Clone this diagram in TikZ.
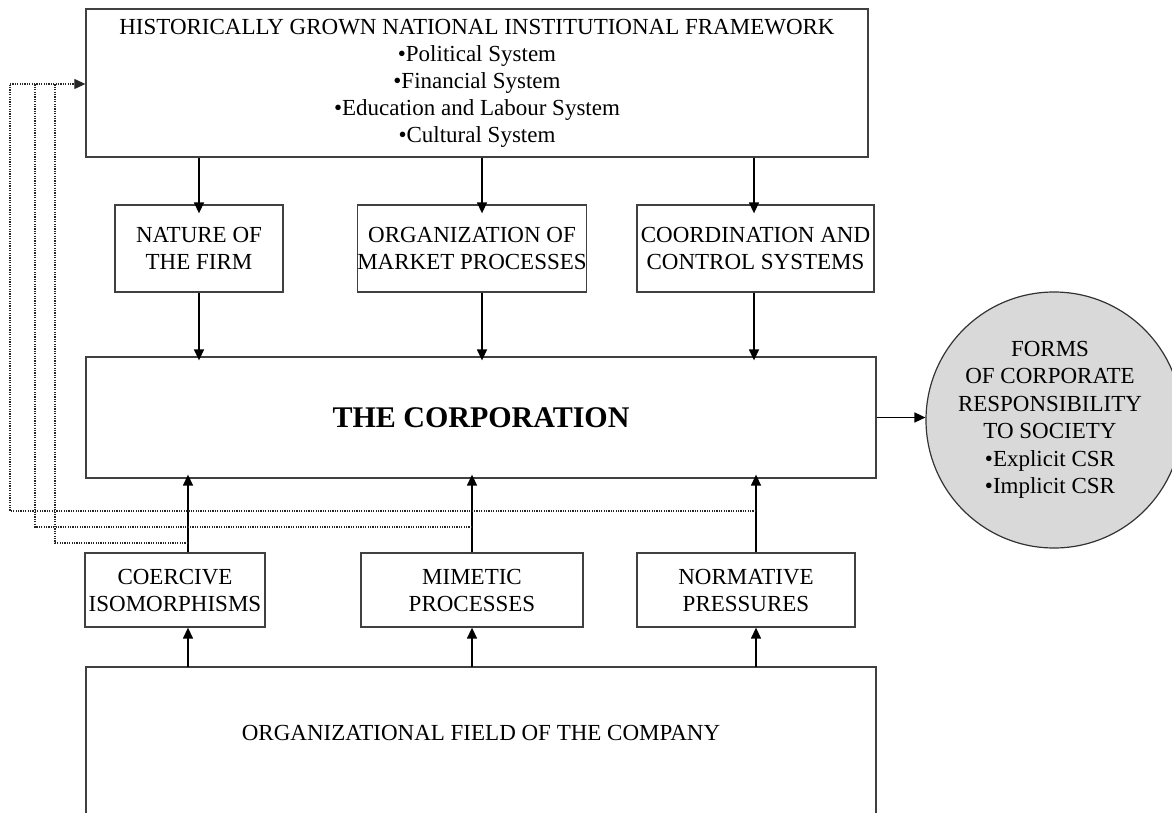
\documentclass[tikz,border=0pt]{standalone}
\usepackage{fontspec}
\setmainfont{Liberation Serif}
\usetikzlibrary{arrows.meta}
\begin{document}
\begin{tikzpicture}[x=1pt,y=-1pt,
  box/.style={draw=black!75, line width=1.3pt, align=center, inner sep=0pt, font=\fontsize{23}{27}\selectfont},
  arr/.style={-{Triangle[length=11pt,width=10pt]}, line width=1.4pt},
  fb/.style={dash pattern=on 1.2pt off 1.2pt, line width=1.1pt, black!85},
  fbarr/.style={fb, -{Triangle[length=11pt,width=10pt]}}]
\useasboundingbox (0,0) rectangle (1172,813);
\node[box, minimum width=782pt, minimum height=148pt] (top) at (477,83)
  {HISTORICALLY GROWN NATIONAL INSTITUTIONAL FRAMEWORK\\ •Political System\\ •Financial System\\ •Education and Labour System\\ •Cultural System};
\node[box, minimum width=168pt, minimum height=87pt] (nat) at (199,248.5) {NATURE OF\\ THE FIRM};
\node[box, minimum width=224pt, minimum height=87pt] (org) at (472,248.5) {ORGANIZATION OF\\ MARKET PROCESSES};
\node[box, minimum width=237pt, minimum height=87pt] (coord) at (755.5,248.5) {COORDINATION AND\\ CONTROL SYSTEMS};
\node[box, minimum width=790pt, minimum height=121pt, font=\fontsize{30}{34}\selectfont\bfseries] (corp) at (481,417.5) {THE CORPORATION};
\node[box, minimum width=180pt, minimum height=74pt] (coe) at (175,590) {COERCIVE\\ ISOMORPHISMS};
\node[box, minimum width=222pt, minimum height=74pt] (mim) at (472,590) {MIMETIC\\ PROCESSES};
\node[box, minimum width=218pt, minimum height=74pt] (nor) at (746,590) {NORMATIVE\\ PRESSURES};
\node[draw=black!80, line width=1.2pt, fill=black!15, circle, minimum size=256pt, inner sep=0pt] (csr) at (1054,420) {};
\node[align=center, font=\fontsize{23}{27.5}\selectfont] (csrt) at (1050,420) {FORMS\\ OF CORPORATE\\ RESPONSIBILITY\\ TO SOCIETY\\ •Explicit CSR\\ •Implicit CSR};
\node[font=\fontsize{23}{27}\selectfont] (field) at (481,733) {ORGANIZATIONAL FIELD OF THE COMPANY};
\coordinate (fsw) at (86,813);
\coordinate (fnw) at (86,667);
\coordinate (fne) at (876,667);
\coordinate (fse) at (876,813);
\draw[draw=black!75, line width=1.3pt] (fsw) -- (fnw) -- (fne) -- (fse);
% x positions
\coordinate (a1) at (199,0);
\coordinate (a2) at (482,0);
\coordinate (a3) at (754,0);
\coordinate (b1) at (188,0);
\coordinate (b2) at (472,0);
\coordinate (b3) at (756,0);
% top to middle
\draw[arr] (top.south -| a1) -- ([yshift=-9pt]nat.north -| a1);
\draw[arr] (top.south -| a2) -- ([yshift=-9pt]org.north -| a2);
\draw[arr] (top.south -| a3) -- ([yshift=-9pt]coord.north -| a3);
% middle to corp
\draw[arr] (nat.south -| a1) -- ([yshift=-4pt]corp.north -| a1);
\draw[arr] (org.south -| a2) -- ([yshift=-4pt]corp.north -| a2);
\draw[arr] (coord.south -| a3) -- ([yshift=-4pt]corp.north -| a3);
% small boxes to corp
\draw[arr] (coe.north -| b1) -- ([yshift=4pt]corp.south -| b1);
\draw[arr] (mim.north -| b2) -- ([yshift=4pt]corp.south -| b2);
\draw[arr] (nor.north -| b3) -- ([yshift=4pt]corp.south -| b3);
% field to small boxes
\draw[arr] (fnw -| b1) -- (coe.south -| b1);
\draw[arr] (fnw -| b2) -- (mim.south -| b2);
\draw[arr] (fnw -| b3) -- (nor.south -| b3);
% corp to csr
\draw[arr] (corp.east) -- (csr.west |- corp.east);
% feedback dotted lines
\coordinate (t0) at (86,84);
\coordinate (d1) at (10,511);
\coordinate (d2) at (35,527);
\coordinate (d3) at (55,543);
\draw[fb] (d1 -| b3) -- (d1) -- (d1 |- t0);
\draw[fb] (d2 -| b2) -- (d2) -- (d2 |- t0);
\draw[fb] (d3 -| b1) -- (d3) -- (d3 |- t0);
\draw[fbarr] (d1 |- t0) -- (top.west |- t0);
\end{tikzpicture}
\end{document}
